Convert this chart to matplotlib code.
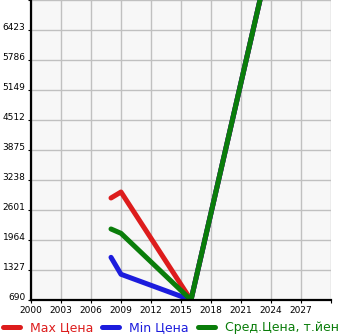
import matplotlib
matplotlib.use('Agg')
import matplotlib.pyplot as plt
import matplotlib.transforms as mtransforms

# data
years = [2008, 2009, 2016, 2024]
max_price = [2856, 2983, 690, 8076]
min_price = [1596, 1236, 690, 8076]
avg_price = [2198, 2106, 690, 8076]

x_ticks = [2000, 2003, 2006, 2009, 2012, 2015, 2018, 2021, 2024, 2027, 2030]
x_labels = ['2000', '2003', '2006', '2009', '2012', '2015', '2018', '2021', '2024', '2027', '']
y_ticks = [690, 1327, 1964, 2601, 3238, 3875, 4512, 5149, 5786, 6423, 7060]
y_labels = ['690', '1327', '1964', '2601', '3238', '3875', '4512', '5149', '5786', '6423', '']

fig = plt.figure(figsize=(3.45, 3.35), dpi=100)
ax = fig.add_axes([31/345, 35/335, 300/345, 300/335])
ax.set_facecolor('#f7f7f7')

ax.plot(years, max_price, color='#dd1c1c', lw=3.6, solid_capstyle='round', solid_joinstyle='round', label='Max Цена')
ax.plot(years, min_price, color='#1c1cdd', lw=3.6, solid_capstyle='round', solid_joinstyle='round', label='Min Цена')
ax.plot(years, avg_price, color='#0a7d0a', lw=3.6, solid_capstyle='round', solid_joinstyle='round', label='Сред.Цена, т.йен')

ax.set_xlim(2000, 2030)
ax.set_ylim(690, 7060)
ax.set_xticks(x_ticks)
ax.set_xticklabels(x_labels, fontsize=6.5)
ax.set_yticks(y_ticks)
ax.set_yticklabels(y_labels, fontsize=6.5)
ax.grid(True, color='#c0c0c0', lw=1.0)
ax.set_axisbelow(True)

for s in ['top', 'right']:
    ax.spines[s].set_visible(False)
for s in ['left', 'bottom']:
    ax.spines[s].set_linewidth(1.6)
    ax.spines[s].set_color('black')
ax.tick_params(axis='both', length=2.5, width=0.8, pad=1.5, color='black')

# y labels sit a little above their grid lines
off = mtransforms.ScaledTranslation(0, 3/100, fig.dpi_scale_trans)
for lab in ax.get_yticklabels():
    lab.set_transform(lab.get_transform() + off)

leg = fig.legend(loc='lower left', bbox_to_anchor=(2.5/345, 0.5/335), ncol=3, frameon=False,
                 fontsize=9, handlelength=1.36, handletextpad=0.8, columnspacing=0.75,
                 borderpad=0, borderaxespad=0, labelcolor='linecolor')

fig.savefig('out.png', dpi=100)
